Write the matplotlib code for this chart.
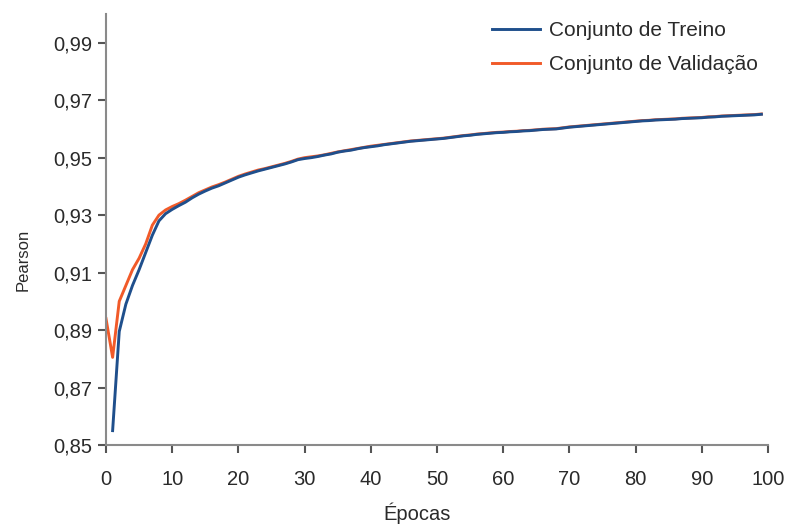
import matplotlib
matplotlib.use("Agg")
import matplotlib.pyplot as plt
from matplotlib.ticker import FixedLocator, FuncFormatter

plt.rcParams['font.family'] = ['Liberation Sans', 'DejaVu Sans']

# Pearson correlation per epoch
train_epochs = list(range(1, 100))
train_pearson = [
    0.8550, 0.8895, 0.8990, 0.9055, 0.9110, 0.9170, 0.9230, 0.9280, 0.9305,
    0.9320, 0.9333, 0.9345, 0.9360, 0.9373, 0.9384, 0.9394, 0.9402, 0.9412, 0.9422,
    0.9432, 0.9440, 0.9447, 0.9454, 0.9460, 0.9466, 0.9472, 0.9478, 0.9485, 0.9493,
    0.9497, 0.9500, 0.9504, 0.9509, 0.9513, 0.9519, 0.9523, 0.9526, 0.9531, 0.9535,
    0.9538, 0.9541, 0.9545, 0.9548, 0.9551, 0.9554, 0.9557, 0.9559, 0.9561, 0.9563,
    0.9565, 0.9567, 0.9570, 0.9573, 0.9576, 0.9578, 0.9581, 0.9583, 0.9585, 0.9587,
    0.9588, 0.9590, 0.9591, 0.9593, 0.9594, 0.9596, 0.9598, 0.9599, 0.9600, 0.9603,
    0.9606, 0.9608, 0.9610, 0.9612, 0.9614, 0.9616, 0.9618, 0.9620, 0.9622, 0.9624,
    0.9626, 0.9628, 0.9629, 0.9631, 0.9632, 0.9633, 0.9634, 0.9636, 0.9637, 0.9638,
    0.9639, 0.9641, 0.9642, 0.9644, 0.9645, 0.9646, 0.9647, 0.9648, 0.9649, 0.9651,
]

val_epochs = list(range(0, 100))
val_pearson = [
    0.8940, 0.8805, 0.9000, 0.9055, 0.9110, 0.9150, 0.9200, 0.9265, 0.9300, 0.9318,
    0.9330, 0.9340, 0.9352, 0.9365, 0.9378, 0.9388, 0.9398, 0.9406, 0.9415, 0.9425,
    0.9435, 0.9443, 0.9450, 0.9457, 0.9462, 0.9468, 0.9474, 0.9480, 0.9487, 0.9495,
    0.9500, 0.9503, 0.9506, 0.9510, 0.9515, 0.9520, 0.9524, 0.9528, 0.9532, 0.9536,
    0.9540, 0.9543, 0.9546, 0.9549, 0.9552, 0.9555, 0.9558, 0.9560, 0.9562, 0.9564,
    0.9566, 0.9568, 0.9571, 0.9574, 0.9577, 0.9579, 0.9582, 0.9584, 0.9586, 0.9588,
    0.9589, 0.9591, 0.9592, 0.9594, 0.9595, 0.9597, 0.9599, 0.9600, 0.9601, 0.9604,
    0.9607, 0.9609, 0.9611, 0.9613, 0.9615, 0.9617, 0.9619, 0.9621, 0.9623, 0.9625,
    0.9627, 0.9629, 0.9630, 0.9632, 0.9633, 0.9634, 0.9635, 0.9637, 0.9638, 0.9639,
    0.9640, 0.9642, 0.9643, 0.9645, 0.9646, 0.9647, 0.9648, 0.9649, 0.9650, 0.9652,
]

x_ticks = [0, 10, 20, 30, 40, 50, 60, 70, 80, 90, 100]
y_ticks = [0.85, 0.87, 0.89, 0.91, 0.93, 0.95, 0.97, 0.99]

BLUE = '#1f4f8c'
ORANGE = '#f15a29'
AXIS_GRAY = '#8a8a8a'
TEXT = '#2a2a2a'

fig = plt.figure(figsize=(7.87, 5.25), dpi=100)
ax = fig.add_axes([106 / 787, 1 - 445 / 525, (768 - 106) / 787, (445 - 14) / 525])

l_val, = ax.plot(val_epochs, val_pearson, color=ORANGE, lw=2.1,
                 solid_joinstyle='round', label='Conjunto de Validação')
l_tr, = ax.plot(train_epochs, train_pearson, color=BLUE, lw=2.1,
                solid_joinstyle='round', label='Conjunto de Treino')

ax.set_xlim(0, 100)
ax.set_ylim(0.85, 1.0)
ax.xaxis.set_major_locator(FixedLocator(x_ticks))
ax.yaxis.set_major_locator(FixedLocator(y_ticks))
ax.yaxis.set_major_formatter(FuncFormatter(lambda v, p: f"{v:.2f}".replace('.', ',')))

for side in ('top', 'right'):
    ax.spines[side].set_visible(False)
for side in ('left', 'bottom'):
    ax.spines[side].set_color(AXIS_GRAY)
    ax.spines[side].set_linewidth(1.5)

ax.tick_params(axis='both', direction='out', length=6, width=1.5,
               color='#555555', labelcolor=TEXT, labelsize=14.5)
ax.tick_params(axis='x', pad=12)
ax.tick_params(axis='y', pad=4)

ax.set_xlabel('Épocas', fontsize=14.5, color=TEXT)
ax.xaxis.set_label_coords((417 - 106) / (768 - 106), -(513 - 445) / (445 - 14), transform=ax.transAxes)
ax.set_ylabel('Pearson', fontsize=12, color=TEXT)
ax.yaxis.set_label_coords(-(106 - 23) / (768 - 106), (445 - 260) / (445 - 14), transform=ax.transAxes)
ax.xaxis.label.set_va('center')
ax.yaxis.label.set_va('center')

leg = ax.legend(handles=[l_tr, l_val], loc='upper left', frameon=False,
                bbox_to_anchor=(492 / 787, 1 - 21 / 525), bbox_transform=fig.transFigure,
                borderpad=0, borderaxespad=0, fontsize=15, handlelength=2.3,
                handletextpad=0.45, labelspacing=0.72)
for t in leg.get_texts():
    t.set_color(TEXT)

fig.savefig('out.png', dpi=100)
